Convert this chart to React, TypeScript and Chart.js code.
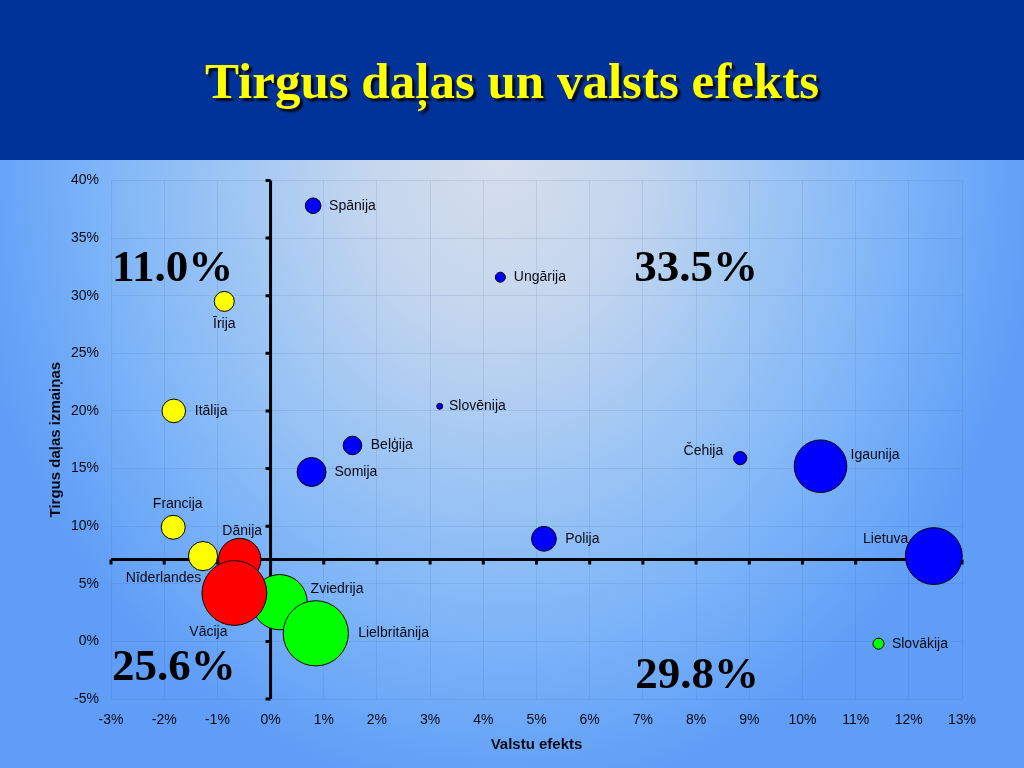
import { useEffect, useRef } from "react";
import { Chart, registerables } from "chart.js";

Chart.register(...registerables);

// ---- Data ----
const countries = [
  "Spānija", "Ungārija", "Slovēnija", "Beļģija", "Somija", "Čehija", "Igaunija", "Polija", "Lietuva",
  "Īrija", "Itālija", "Francija", "Nīderlandes",
  "Dānija", "Vācija",
  "Zviedrija", "Lielbritānija", "Slovākija",
];
const xValues = [0.80, 4.32, 3.18, 1.54, 0.77, 8.83, 10.34, 5.14, 12.47, -0.87, -1.82, -1.83, -1.27, -0.58, -0.68, 0.17, 0.85, 11.43];
const yValues = [37.8, 31.6, 20.4, 17.0, 14.7, 15.9, 15.2, 8.9, 7.4, 29.5, 20.0, 9.9, 7.4, 7.1, 4.2, 3.4, 0.7, -0.2];
const sizes = [7.8, 5, 3, 9.3, 14.5, 6.6, 26.3, 12.4, 28.4, 10, 11.8, 12, 14.6, 21.2, 32.4, 27.6, 32.6, 5.5];
const groups = [
  "blue", "blue", "blue", "blue", "blue", "blue", "blue", "blue", "blue",
  "yellow", "yellow", "yellow", "yellow",
  "red", "red",
  "green", "green", "green",
];
const groupOrder = ["blue", "yellow", "red", "green"];
const groupColors: Record<string, string> = {
  blue: "#0000ff",
  yellow: "#ffff00",
  red: "#ff0000",
  green: "#00ff00",
};

const xTickValues = [-3, -2, -1, 0, 1, 2, 3, 4, 5, 6, 7, 8, 9, 10, 11, 12, 13];
const yTickValues = [-5, 0, 5, 10, 15, 20, 25, 30, 35, 40];
const axisCrossX = 0;
const axisCrossY = 7.1;

const quadrantLabels = ["11.0%", "33.5%", "25.6%", "29.8%"];
const quadrantX = [-1.84, 8.0, -1.82, 8.02];
const quadrantY = [32.3, 32.3, -2.3, -3.0];

const titleText = "Tirgus daļas un valsts efekts";
const xTitle = "Valstu efekts";
const yTitle = "Tirgus daļas izmaiņas";

// label placement: [dx, dy, align] relative to bubble centre (px)
const labelPlacement: Record<string, [number, number, CanvasTextAlign]> = {
  "Spānija": [16, 0, "left"],
  "Ungārija": [13.5, 0, "left"],
  "Slovēnija": [9.3, 0, "left"],
  "Beļģija": [18.3, 0, "left"],
  "Somija": [23, 0, "left"],
  "Čehija": [-17, -7, "right"],
  "Igaunija": [30, -11, "left"],
  "Polija": [21.3, 0, "left"],
  "Lietuva": [-25.6, -17.3, "right"],
  "Īrija": [0, 23, "center"],
  "Itālija": [21, 0, "left"],
  "Francija": [4.5, -23, "center"],
  "Nīderlandes": [-1.7, 21.7, "right"],
  "Dānija": [2.5, -28.3, "center"],
  "Vācija": [-26, 39.6, "center"],
  "Zviedrija": [31, -13.4, "left"],
  "Lielbritānija": [42.4, 0, "left"],
  "Slovākija": [13.4, 0, "left"],
};

const crossAxesPlugin = {
  id: "crossAxes",
  beforeDatasetsDraw(chart: any) {
    const { ctx, scales } = chart;
    const xs = scales.x;
    const ys = scales.y;
    const x0 = xs.getPixelForValue(axisCrossX);
    const y0 = ys.getPixelForValue(axisCrossY);
    ctx.save();
    ctx.strokeStyle = "#000";
    ctx.lineWidth = 3;
    ctx.beginPath();
    ctx.moveTo(x0, ys.getPixelForValue(yTickValues[yTickValues.length - 1]));
    ctx.lineTo(x0, ys.getPixelForValue(yTickValues[0]));
    ctx.moveTo(xs.getPixelForValue(xTickValues[0]), y0);
    ctx.lineTo(xs.getPixelForValue(xTickValues[xTickValues.length - 1]), y0);
    ctx.stroke();
    ctx.beginPath();
    for (const v of yTickValues) {
      const py = ys.getPixelForValue(v);
      ctx.moveTo(x0 - 5, py);
      ctx.lineTo(x0, py);
    }
    for (const v of xTickValues) {
      const px = xs.getPixelForValue(v);
      ctx.moveTo(px, y0);
      ctx.lineTo(px, y0 + 5);
    }
    ctx.stroke();
    ctx.restore();
  },
};

const labelsPlugin = {
  id: "bubbleLabels",
  afterDatasetsDraw(chart: any) {
    const { ctx } = chart;
    ctx.save();
    ctx.font = "14px 'Liberation Sans', Arial, sans-serif";
    ctx.fillStyle = "#0a0a14";
    ctx.textBaseline = "middle";
    chart.data.datasets.forEach((ds: any, di: number) => {
      const meta = chart.getDatasetMeta(di);
      meta.data.forEach((el: any, i: number) => {
        const name = ds.labels[i];
        const p = labelPlacement[name] || [12, 0, "left"];
        ctx.textAlign = p[2];
        ctx.fillText(name, el.x + p[0], el.y + p[1]);
      });
    });
    // quadrant shares
    const xs = chart.scales.x;
    const ys = chart.scales.y;
    ctx.font = "bold 45px 'Liberation Serif', 'Times New Roman', serif";
    ctx.fillStyle = "#000";
    ctx.textAlign = "center";
    ctx.textBaseline = "middle";
    quadrantLabels.forEach((t, i) => {
      ctx.fillText(t, xs.getPixelForValue(quadrantX[i]), ys.getPixelForValue(quadrantY[i]));
    });
    ctx.restore();
  },
};

export default function App() {
  const canvasRef = useRef<HTMLCanvasElement | null>(null);

  useEffect(() => {
    if (!canvasRef.current) return;
    const datasets = groupOrder.map((g) => {
      const idx = groups.map((gg, i) => (gg === g ? i : -1)).filter((i) => i >= 0);
      return {
        label: g,
        labels: idx.map((i) => countries[i]),
        data: idx.map((i) => ({ x: xValues[i], y: yValues[i], r: sizes[i] })),
        backgroundColor: groupColors[g],
        borderColor: "#000",
        borderWidth: 1,
        clip: false as any,
      };
    });
    const tickFont = { family: "'Liberation Sans', Arial, sans-serif", size: 14 };
    const titleFont = { family: "'Liberation Sans', Arial, sans-serif", size: 15, weight: "bold" as any };
    const chart = new Chart(canvasRef.current, {
      type: "bubble",
      data: { datasets: datasets as any },
      plugins: [crossAxesPlugin, labelsPlugin],
      options: {
        responsive: false,
        animation: false,
        devicePixelRatio: 1,
        layout: { autoPadding: false, padding: { left: 0, right: 62, top: 17, bottom: 0 } },
        plugins: { legend: { display: false }, tooltip: { enabled: false } },
        scales: {
          x: {
            type: "linear",
            min: xTickValues[0],
            max: xTickValues[xTickValues.length - 1],
            afterBuildTicks: (s: any) => {
              s.ticks = xTickValues.map((v) => ({ value: v }));
            },
            afterFit: (s: any) => {
              s.height = 69;
            },
            ticks: {
              callback: (v: any) => `${v}%`,
              color: "#0a0a14",
              font: tickFont,
              padding: 13,
              maxRotation: 0,
              autoSkip: false,
            },
            grid: { color: "rgba(60,90,140,0.13)", drawTicks: false, lineWidth: 1 },
            border: { display: false },
            title: { display: true, text: xTitle, color: "#0a0a14", font: titleFont, padding: { top: 0, bottom: 14 } },
          },
          y: {
            type: "linear",
            min: yTickValues[0],
            max: yTickValues[yTickValues.length - 1],
            afterBuildTicks: (s: any) => {
              s.ticks = yTickValues.map((v) => ({ value: v }));
            },
            afterFit: (s: any) => {
              s.width = 111;
            },
            ticks: {
              callback: (v: any) => `${v}%`,
              color: "#0a0a14",
              font: tickFont,
              padding: 12,
              autoSkip: false,
            },
            grid: { color: "rgba(60,90,140,0.13)", drawTicks: false, lineWidth: 1 },
            border: { display: false },
            title: { display: true, text: yTitle, color: "#0a0a14", font: titleFont, padding: { top: 47, bottom: 0 } },
          },
        },
      },
    });
    return () => chart.destroy();
  }, []);

  return (
    <div style={{ position: "absolute", left: 0, top: 0, width: 1024, height: 768, overflow: "hidden" }}>
      <div
        style={{
          position: "absolute",
          left: 0,
          top: 0,
          width: 1024,
          height: 160,
          background: "#003399",
        }}
      >
        <div
          style={{
            position: "absolute",
            left: 0,
            width: 1024,
            top: 54,
            lineHeight: "55px",
            textAlign: "center",
            color: "#ffff00",
            fontFamily: "'Liberation Serif', 'Times New Roman', serif",
            fontWeight: "bold",
            fontSize: 51,
            textShadow: "3px 3px 2px rgba(0,0,0,0.85)",
            whiteSpace: "nowrap",
          }}
        >
          {titleText}
        </div>
      </div>
      <div
        style={{
          position: "absolute",
          left: 0,
          top: 160,
          width: 1024,
          height: 608,
          backgroundColor: "#5f9df7",
          backgroundImage:
            "radial-gradient(ellipse 540px 640px at 500px 0px, #d6deec 0%, #c4d6ee 25%, #9ec6f4 50%, #7cb4f8 75%, #5f9df7 100%)",
        }}
      >
        <canvas ref={canvasRef} width={1024} height={608} style={{ display: "block", width: 1024, height: 608 }} />
      </div>
    </div>
  );
}
